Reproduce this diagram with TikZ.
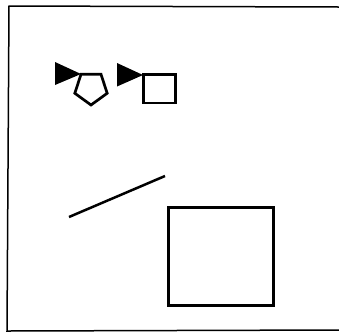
\documentclass[tikz,border=0pt]{standalone}
\usetikzlibrary{calc}
\begin{document}
\begin{tikzpicture}[x=1pt,y=-1pt,
  framestyle/.style={line width=1.5pt,draw=black},
  shapestyle/.style={line width=2.7pt,draw=black,line join=miter},
  bigstyle/.style={line width=3pt,draw=black},
  headstyle/.style={fill=black,draw=none}]
\useasboundingbox (0,0) rectangle (339,333);
% frame (open on the right)
\draw[framestyle] (339,7) -- (9,6) -- (7,331) -- (339,330);
% pentagon with arrowhead
\coordinate (pc) at (91,88);
\draw[shapestyle] ($(pc)+(90:17)$) -- ($(pc)+(162:17)$) -- ($(pc)+(234:17)$) -- ($(pc)+(306:17)$) -- ($(pc)+(18:17)$) -- cycle;
\fill[headstyle] (55,62) -- (81,74) -- (55,85) -- cycle;
% small square with arrowhead
\draw[shapestyle] (143.5,74.5) rectangle (175.5,103);
\fill[headstyle] (117,63) -- (143,75) -- (117,86.5) -- cycle;
% slanted line
\coordinate (la) at (69,217);
\coordinate (lb) at (165,176);
\draw[line width=2.5pt] (la) -- (lb);
% big square
\draw[bigstyle] (168,207.5) rectangle (273,305.5);
\end{tikzpicture}
\end{document}
